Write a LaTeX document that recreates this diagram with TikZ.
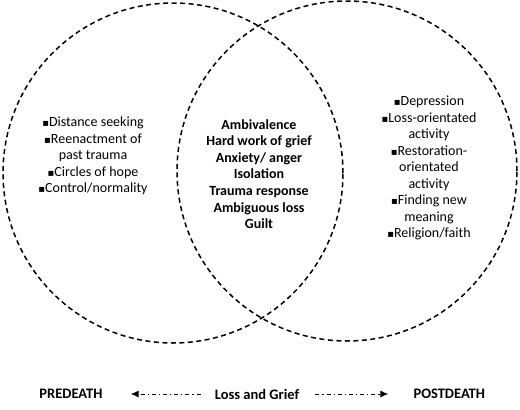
\documentclass[tikz,border=0pt]{standalone}
\usepackage{fontspec}
\setmainfont{Carlito}
\newfontfamily\symfont{DejaVu Sans}
\usetikzlibrary{arrows.meta, positioning}
\newcommand{\sqbul}{{\symfont\fontsize{10}{10}\selectfont\char"25AA}}

\begin{document}
\begin{tikzpicture}[
        x=1pt, y=-1pt,
        font=\fontsize{14}{16.5}\selectfont,
        ring/.style={circle, draw, dash pattern=on 5pt off 3.5pt, line width=1.5pt, minimum size=340pt, inner sep=0pt},
        items/.style={align=center, inner sep=2pt},
        shared/.style={align=center, font=\fontsize{14}{16.6}\selectfont\bfseries},
        phase/.style={font=\fontsize{14.5}{16}\selectfont\bfseries, inner sep=3pt},
        flow/.style={-{Latex[length=8pt, width=7pt]}, line width=1pt, dash pattern=on 4pt off 3pt on 1.2pt off 3pt}
    ]

    \useasboundingbox (0,0) rectangle (520,410);

    \node[ring] (pre) at (173,173) {};
    \node[ring] (post) at (347,171) {};

    \node[items] (prelist) at (93,156) {\sqbul Distance seeking\\\sqbul Reenactment of\\past trauma\\\sqbul Circles of hope\\\sqbul Control/normality};
    \node[shared] (both) at (259,174) {Ambivalence\\Hard work of grief\\Anxiety/ anger\\Isolation\\Trauma response\\Ambiguous loss\\Guilt};
    \node[items] (postlist) at (429,168) {\sqbul Depression\\\sqbul Loss-orientated\\activity\\\sqbul Restoration-\\orientated\\activity\\\sqbul Finding new\\meaning\\\sqbul Religion/faith};

    \node[phase] (grief) at (257,394) {Loss and Grief};
    \node[phase, left=106pt of grief] (predeath) {PREDEATH};
    \node[phase, right=108pt of grief] (postdeath) {POSTDEATH};

    \draw[flow, shorten <=11pt, shorten >=25pt] (grief) -- (predeath);
    \draw[flow, shorten <=13pt, shorten >=22pt] (grief) -- (postdeath);

\end{tikzpicture}
\end{document}
